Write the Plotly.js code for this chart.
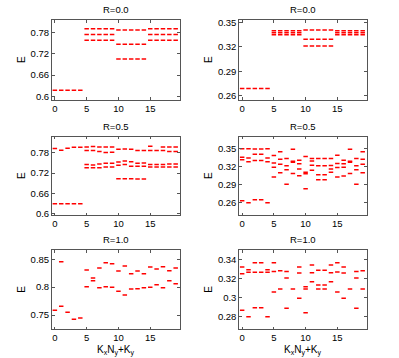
<!DOCTYPE html>
<html><head><meta charset="utf-8">
<script src="https://cdn.plot.ly/plotly-3.0.1.min.js"></script>
<style>html,body{margin:0;padding:0;background:#fff}#chart{width:399px;height:358px}</style>
</head><body><div id="chart"></div>
<script>
// ---- data ----
const K = [0,1,2,3,4,5,6,7,8,9,10,11,12,13,14,15,16,17,18,19];
const panelTitles = ['R=0.0','R=0.0','R=0.5','R=0.5','R=1.0','R=1.0'];
const xTicks = [0,5,10,15];
const xTitle = 'K<sub>x</sub>N<sub>y</sub>+K<sub>y</sub>';
const yTitle = 'E';

// energy levels per momentum index K
const E_left_R00 = [
 [0.6168],[0.6168],[0.6168],[0.6168],[0.6168],
 [0.7915,0.775,0.759],[0.7915,0.775,0.759],[0.7915,0.775,0.759],[0.7915,0.775,0.759],[0.7915,0.775,0.759],
 [0.7877,0.747,0.7058],[0.7877,0.747,0.7058],[0.7877,0.747,0.7058],[0.7877,0.747,0.7058],[0.7877,0.747,0.7058],
 [0.7915,0.775,0.759],[0.7915,0.775,0.759],[0.7915,0.775,0.759],[0.7915,0.775,0.759],[0.7915,0.775,0.759]
];
const E_right_R00 = [
 [0.2689],[0.2689],[0.2689],[0.2689],[0.2689],
 [0.3397,0.3372,0.3348],[0.3397,0.3372,0.3348],[0.3397,0.3372,0.3348],[0.3397,0.3372,0.3348],[0.3397,0.3372,0.3348],
 [0.3405,0.3292,0.3211],[0.3405,0.3292,0.3211],[0.3405,0.3292,0.3211],[0.3405,0.3292,0.3211],[0.3405,0.3292,0.3211],
 [0.3397,0.3372,0.3348],[0.3397,0.3372,0.3348],[0.3397,0.3372,0.3348],[0.3397,0.3372,0.3348],[0.3397,0.3372,0.3348]
];
const E_left_R05 = [
 [0.7929,0.6287],[0.7880,0.6287],[0.7939,0.6287],[0.7969,0.6287],[0.7969,0.6287],
 [0.7979,0.7870,0.7452,0.7362],[0.7989,0.7870,0.7442,0.7362],[0.7979,0.7840,0.7472,0.7362],
 [0.7979,0.7810,0.7492,0.7382],[0.7979,0.7820,0.7492,0.7382],
 [0.7910,0.7531,0.7432,0.7034],[0.7919,0.7561,0.7452,0.7034],[0.7910,0.7541,0.7402,0.7034],
 [0.7870,0.7492,0.7402,0.7024],[0.7870,0.7501,0.7402,0.7024],
 [0.7999,0.7870,0.7452,0.7382],[0.7870,0.7452,0.7382],[0.7979,0.7870,0.7452,0.7382],
 [0.7979,0.7840,0.7472,0.7382],[0.7979,0.7840,0.7472,0.7382]
];
const E_right_R05 = [
 [0.3497,0.3353,0.3314,0.2632],[0.3497,0.3342,0.3281,0.2599],[0.3492,0.3406,0.3300,0.2646],
 [0.3492,0.3406,0.3300,0.2646],[0.3497,0.3342,0.3281,0.2599],
 [0.3384,0.3259,0.3189,0.3026],[0.3445,0.3320,0.3239,0.3095],[0.3334,0.3212,0.3145,0.2907],
 [0.3486,0.3287,0.3270,0.3084],[0.3306,0.3248,0.3159,0.3046],
 [0.3367,0.3104,0.3079,0.2832],[0.3334,0.3292,0.3220,0.3140],[0.3334,0.3214,0.3065,0.2982],
 [0.3334,0.3214,0.3065,0.2982],[0.3334,0.3217,0.3159,0.3104],
 [0.3386,0.3250,0.3184,0.3026],[0.3306,0.3248,0.3187,0.3043],[0.3486,0.3287,0.3270,0.3084],
 [0.3334,0.3212,0.3145,0.2907],[0.3445,0.3320,0.3239,0.3095]
];
const E_left_R10 = [
 [0.7584],[0.8458,0.7656],[0.7548],[0.7422],[0.7446],
 [0.8308,0.8009],[0.8164,0.8116],[0.8344,0.7991],[0.8440,0.8009],[0.8422,0.7997],
 [0.8290,0.7925],[0.8380,0.7859],[0.8242,0.7967],[0.8290,0.7973],[0.8242,0.7991],
 [0.8362,0.7997],[0.8326,0.8045],[0.8368,0.7991],[0.8296,0.8116],[0.8344,0.8063]
];
const E_right_R10 = [
 [0.3323,0.3252,0.2865],[0.3293,0.3268,0.2798],[0.3367,0.3268,0.2893],[0.3367,0.3268,0.2893],[0.3293,0.3268,0.2798],
 [0.3367,0.3274,0.3059],[0.3282,0.3091],[0.3274,0.3207,0.2888],[0.3091],[0.3323,0.3260,0.2992],
 [0.3115,0.3091,0.2839],[0.3344,0.3263,0.3166],[0.3289,0.3133,0.3089],[0.3289,0.3133,0.3089],[0.3344,0.3263,0.3166],
 [0.3367,0.3270,0.3059],[0.3323,0.3260,0.2992],[0.3091],[0.3274,0.3207,0.2888],[0.3282,0.3091]
];
const yTicks_left_top = [0.6,0.66,0.72,0.78];
const yTicks_right_top = [0.26,0.29,0.32,0.35];
const yTicks_left_bot = [0.75,0.8,0.85];
const yTicks_right_bot = [0.28,0.3,0.32,0.34];

// ---- build ----
const panels = [E_left_R00,E_right_R00,E_left_R05,E_right_R05,E_left_R10,E_right_R10];
const yTickSets = [yTicks_left_top,yTicks_right_top,yTicks_left_top,yTicks_right_top,yTicks_left_bot,yTicks_right_bot];
const yRanges = [[0.5906,0.8161],[0.2553,0.3529],[0.595,0.829],[0.2394,0.370],[0.7249,0.8667],[0.2668,0.3502]];

const W=399,H=358;
const colPx = [[52,179.5],[239.3,366.5]];
const rowPx = [[20,99.5],[136.5,215],[250,329]];
const FONT = 'Liberation Sans, Arial, Helvetica, sans-serif';

function flat(levels){const x=[],y=[];levels.forEach((ls,i)=>ls.forEach(v=>{x.push(K[i]);y.push(v);}));return {x,y};}

const traces=[]; const layout={width:W,height:H,margin:{l:0,r:0,t:0,b:0},paper_bgcolor:'#fff',plot_bgcolor:'#fff',showlegend:false,annotations:[],font:{family:FONT,size:9,color:'#000'}};
panels.forEach((lv,i)=>{
  const r=Math.floor(i/2), c=i%2, n=i+1;
  const xa = n===1?'x':'x'+n, ya = n===1?'y':'y'+n;
  const d=flat(lv);
  traces.push({type:'scatter',mode:'markers',x:d.x,y:d.y,xaxis:xa,yaxis:ya,hoverinfo:'skip',
    marker:{symbol:'line-ew',size:3.2,color:'#ff0000',line:{color:'#ff0000',width:1.5}}});
  const base={showline:true,mirror:'ticks',linecolor:'#555',linewidth:1,ticks:'inside',ticklen:2.5,tickcolor:'#555',
    showgrid:false,zeroline:false,tickfont:{family:FONT,size:9.5,color:'#000'}};
  const xd=[colPx[c][0]/W,colPx[c][1]/W], yd=[1-rowPx[r][1]/H,1-rowPx[r][0]/H];
  const xk = n===1?'xaxis':'xaxis'+n, yk = n===1?'yaxis':'yaxis'+n;
  layout[xk]=Object.assign({},base,{domain:xd,anchor:ya,range:[-0.45,19.6],tickvals:xTicks,ticktext:xTicks.map(String)});
  layout[yk]=Object.assign({},base,{domain:yd,anchor:xa,range:yRanges[i],tickvals:yTickSets[i],ticktext:yTickSets[i].map(String),
    title:{text:yTitle,font:{family:FONT,size:10,color:'#000'},standoff:3}});
  layout.annotations.push({text:panelTitles[i],xref:'paper',yref:'paper',x:(xd[0]+xd[1])/2,y:yd[1]+3/H,xanchor:'center',yanchor:'bottom',showarrow:false,font:{family:FONT,size:9.5,color:'#000'}});
  if(r===2) layout.annotations.push({text:xTitle,xref:'paper',yref:'paper',x:(xd[0]+xd[1])/2,y:1-342/H,xanchor:'center',yanchor:'top',showarrow:false,font:{family:FONT,size:10,color:'#000'}});
});
Plotly.newPlot('chart',traces,layout,{staticPlot:true,displayModeBar:false});
</script></body></html>
